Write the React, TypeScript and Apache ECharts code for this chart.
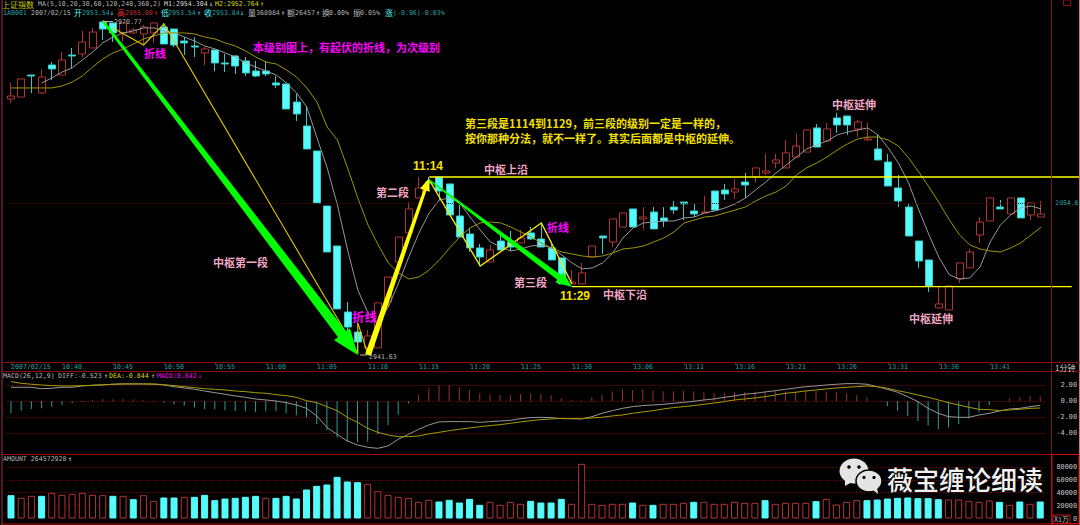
import React, { useEffect, useRef } from "react";
import * as echarts from "echarts";

const times = [
  "10:35","10:36","10:37","10:38","10:39","10:40","10:41","10:42","10:43","10:44","10:45","10:46","10:47","10:48","10:49","10:50","10:51","10:52","10:53","10:54","10:55","10:56","10:57","10:58","10:59","11:00","11:01","11:02","11:03","11:04","11:05","11:06","11:07","11:08","11:09","11:10","11:11","11:12","11:13","11:14","11:15","11:16","11:17","11:18","11:19","11:20","11:21","11:22","11:23","11:24","11:25","11:26","11:27","11:28","11:29","11:30","13:01","13:02","13:03","13:04","13:05","13:06","13:07","13:08","13:09","13:10","13:11","13:12","13:13","13:14","13:15","13:16","13:17","13:18","13:19","13:20","13:21","13:22","13:23","13:24","13:25","13:26","13:27","13:28","13:29","13:30","13:31","13:32","13:33","13:34","13:35","13:36","13:37","13:38","13:39","13:40","13:41","13:42","13:43","13:44","13:45","13:46",
];
const tickIndexes = [0, 5, 10, 15, 20, 25, 30, 35, 40, 45, 50, 55, 61, 66, 71, 76, 81, 86, 91, 96];
const dateLabel = "2007/02/15";

const opens = [
  2963.99,2964.16,2966.10,2964.52,2966.98,2966.10,2967.86,2967.95,2968.48,2970.76,
  2970.68,2969.80,2969.80,2969.71,2969.80,2970.32,2970.15,2969.09,2968.65,2968.04,
  2968.30,2967.16,2967.77,2967.33,2966.45,2966.45,2965.40,2965.31,2963.72,2961.61,
  2959.41,2954.57,2951.05,2945.24,2943.48,2942.08,2942.08,2946.12,2949.64,2952.20,
  2955.28,2956.68,2957.12,2956.51,2953.69,2952.11,2950.88,2949.64,2951.49,2951.40,
  2951.32,2952.20,2951.67,2950.88,2950.00,2947.71,2947.71,2950.08,2951.93,2951.40,
  2952.72,2954.31,2953.43,2954.04,2953.52,2954.48,2954.92,2954.13,2953.96,2955.89,
  2955.98,2955.80,2956.68,2957.12,2957.48,2958.36,2957.92,2958.88,2959.32,2961.44,
  2960.29,2962.32,2962.49,2961.35,2960.38,2959.59,2958.44,2956.16,2954.48,2951.49,
  2949.82,2945.60,2945.42,2948.15,2949.12,2952.02,2953.25,2954.48,2953.87,2955.28,
  2953.78,2953.60,
];
const closes = [
  2964.25,2965.75,2966.01,2965.92,2966.63,2967.42,2967.77,2969.00,2969.88,2970.15,
  2969.80,2970.68,2970.06,2970.32,2970.68,2968.83,2968.74,2968.92,2968.56,2968.39,
  2967.16,2967.07,2966.89,2966.28,2966.01,2966.19,2965.22,2963.11,2962.67,2959.59,
  2954.84,2950.52,2945.51,2943.92,2942.60,2943.13,2946.04,2948.32,2951.84,2954.31,
  2956.16,2956.60,2955.89,2953.78,2951.84,2950.88,2950.08,2950.70,2950.70,2950.96,
  2951.76,2951.67,2950.96,2949.82,2947.71,2947.88,2948.68,2951.05,2951.76,2953.43,
  2953.96,2952.72,2953.60,2952.55,2953.25,2954.22,2954.75,2953.87,2954.04,2954.22,
  2955.63,2956.07,2956.42,2957.92,2957.65,2958.62,2959.24,2959.85,2961.26,2959.76,
  2961.35,2961.70,2961.70,2961.96,2960.47,2958.62,2956.33,2955.01,2951.93,2949.73,
  2947.53,2945.95,2947.53,2949.56,2950.52,2953.16,2955.28,2954.31,2955.28,2953.52,
  2954.84,2953.87,
];
const lows = [
  2963.64,2964.16,2964.52,2964.43,2965.66,2966.10,2966.72,2967.68,2968.48,2969.18,
  2969.00,2969.00,2969.71,2968.74,2968.92,2968.83,2968.56,2967.86,2967.68,2966.98,
  2966.45,2966.36,2966.19,2966.01,2965.92,2966.01,2964.96,2963.11,2962.05,2959.59,
  2954.84,2950.52,2945.51,2943.40,2941.63,2941.63,2942.08,2945.68,2949.64,2952.20,
  2955.28,2955.98,2955.10,2953.78,2951.84,2950.52,2949.29,2949.64,2950.70,2950.61,
  2951.32,2951.58,2950.96,2949.82,2947.71,2947.71,2947.71,2950.08,2950.35,2950.96,
  2952.72,2952.72,2952.46,2952.55,2952.72,2953.87,2953.34,2953.60,2953.96,2954.22,
  2955.10,2955.19,2955.28,2956.60,2957.30,2957.92,2957.92,2958.88,2959.32,2959.76,
  2960.29,2961.00,2960.82,2960.64,2960.38,2958.62,2956.33,2954.48,2951.93,2949.12,
  2947.00,2945.60,2945.42,2947.80,2949.12,2951.32,2953.25,2954.31,2953.87,2953.52,
  2953.34,2953.60,
];
const highs = [
  2965.40,2965.75,2966.10,2966.63,2967.24,2968.12,2968.48,2969.97,2970.24,2970.77,
  2970.68,2970.68,2970.24,2970.50,2970.68,2970.68,2970.15,2969.44,2969.44,2968.56,
  2968.30,2967.95,2967.86,2967.68,2967.33,2967.33,2966.01,2965.31,2964.43,2963.37,
  2959.41,2954.57,2951.05,2946.12,2943.48,2943.66,2946.04,2948.32,2951.84,2954.92,
  2957.12,2957.12,2957.12,2956.51,2954.66,2952.64,2951.23,2951.14,2952.02,2952.37,
  2952.46,2952.72,2953.08,2951.32,2950.00,2948.94,2949.56,2951.05,2951.93,2953.43,
  2953.96,2954.31,2954.48,2954.48,2954.48,2955.01,2954.92,2954.75,2955.45,2955.89,
  2956.51,2956.95,2957.48,2957.92,2959.15,2959.15,2960.38,2960.91,2961.26,2961.79,
  2961.88,2962.76,2962.49,2962.14,2961.88,2960.82,2959.15,2957.30,2954.84,2951.49,
  2949.82,2947.44,2947.53,2949.56,2950.79,2953.60,2955.28,2955.10,2955.28,2955.28,
  2954.84,2955.01,
];
const ma1 = [
  null,null,null,2965.40,2965.84,2966.36,2966.72,2967.42,2968.12,2968.92,
  2969.44,2969.80,2969.97,2970.24,2970.24,2969.97,2969.80,2969.44,2969.09,2968.65,
  2968.39,2968.04,2967.68,2967.16,2966.80,2966.45,2966.10,2965.40,2964.52,2963.28,
  2960.56,2957.92,2954.66,2950.70,2947.18,2945.16,2944.28,2945.68,2947.80,2950.08,
  2952.20,2953.96,2955.10,2955.28,2954.84,2953.60,2952.46,2951.40,2950.96,2950.61,
  2950.79,2951.05,2951.14,2950.88,2950.26,2949.56,2949.03,2949.12,2949.56,2950.44,
  2951.76,2952.64,2953.08,2953.16,2953.25,2953.25,2953.52,2953.60,2953.96,2954.13,
  2954.40,2954.75,2955.28,2955.98,2956.68,2957.48,2958.18,2958.88,2959.59,2959.94,
  2960.29,2960.82,2961.08,2961.26,2961.44,2960.82,2959.68,2958.36,2956.60,2954.22,
  2952.02,2950.00,2948.50,2948.15,2948.24,2949.20,2951.40,2952.90,2953.78,2954.40,
  2954.57,2954.31,
];
const ma2 = [
  2964.96,2964.96,2964.96,2964.96,2964.96,2965.13,2965.48,2966.01,2966.80,2967.51,
  2968.04,2968.39,2968.83,2969.27,2969.53,2969.80,2969.80,2969.80,2969.71,2969.44,
  2969.27,2968.92,2968.65,2968.21,2967.68,2967.24,2967.07,2966.54,2965.92,2964.96,
  2963.72,2961.52,2960.38,2957.92,2955.28,2952.90,2951.14,2949.56,2948.68,2948.15,
  2948.32,2948.94,2949.82,2950.88,2951.84,2952.64,2953.08,2953.16,2953.08,2952.72,
  2952.28,2951.84,2951.32,2950.88,2950.52,2950.35,2950.17,2950.08,2950.17,2950.44,
  2950.79,2950.88,2951.05,2951.40,2951.76,2952.28,2953.08,2953.34,2953.60,2953.69,
  2953.96,2954.22,2954.48,2955.01,2955.45,2955.80,2956.33,2957.30,2957.92,2958.36,
  2958.88,2959.50,2960.03,2960.47,2960.64,2960.64,2960.38,2959.85,2958.80,2957.56,
  2956.24,2954.84,2953.34,2952.02,2951.14,2950.79,2950.61,2950.52,2950.88,2951.32,
  2952.02,2952.72,
];
const macdBars = [
  -1.5,-1.17,-0.96,-0.88,-0.67,-0.46,-0.25,-0.08,0.17,0.29,
  0.25,0.29,0.25,0.13,0.08,-0.17,-0.38,-0.54,-0.79,-0.96,
  -1.0,-1.13,-1.21,-1.25,-1.33,-1.25,-1.25,-1.5,-1.75,-2.0,
  -2.88,-3.58,-4.54,-5.0,-5.13,-5.04,-4.13,-2.96,-1.67,-0.29,
  0.79,1.63,2.0,2.0,1.71,1.38,1.0,0.88,0.75,0.79,
  0.92,1.0,0.92,0.75,0.38,0.13,0.13,0.5,0.79,1.21,
  1.5,1.42,1.5,1.33,1.25,1.25,1.33,1.25,1.13,1.0,
  1.08,1.13,1.13,1.21,1.21,1.29,1.21,1.21,1.42,1.29,
  1.21,1.13,1.0,0.79,0.5,0.02,-0.58,-1.17,-1.83,-2.46,
  -3.04,-3.5,-3.29,-2.83,-2.13,-1.38,-0.46,-0.04,0.38,0.46,
  0.67,0.64,
];
const diff = [
  1.75,1.75,1.75,1.58,1.63,1.75,1.75,1.92,2.0,2.04,
  2.13,2.17,2.17,2.17,2.13,2.04,1.83,1.67,1.5,1.29,
  1.08,0.88,0.67,0.5,0.29,0.17,0.04,-0.17,-0.46,-0.88,
  -1.83,-3.25,-4.13,-4.96,-5.46,-5.75,-5.88,-5.58,-4.75,-4.13,
  -3.5,-2.96,-2.58,-2.54,-2.54,-2.54,-2.63,-2.54,-2.46,-2.38,
  -2.17,-2.04,-2.0,-2.04,-2.17,-2.17,-2.21,-1.92,-1.5,-1.17,
  -0.88,-0.67,-0.54,-0.46,-0.38,-0.25,-0.13,0,0.17,0.29,
  0.5,0.67,0.88,1.0,1.17,1.33,1.5,1.67,1.83,1.92,
  2.04,2.13,2.21,2.21,2.13,1.83,1.5,1.13,0.58,-0.04,
  -0.88,-1.5,-1.92,-2.0,-2.0,-1.71,-1.5,-1.21,-0.96,-0.88,
  -0.67,-0.52,
];
const dea = [
  2.46,2.25,2.13,2.04,1.96,1.92,1.92,1.96,2.0,2.08,
  2.13,2.17,2.17,2.17,2.17,2.08,1.96,1.83,1.71,1.58,
  1.5,1.42,1.29,1.21,1.08,1.0,0.83,0.71,0.5,0.08,
  -0.17,-0.67,-1.17,-2.0,-2.63,-3.38,-3.88,-4.21,-4.42,-4.42,
  -4.33,-4.08,-3.88,-3.67,-3.5,-3.33,-3.17,-3.04,-2.92,-2.75,
  -2.58,-2.42,-2.29,-2.21,-2.13,-2.17,-2.17,-2.08,-2.0,-1.83,
  -1.71,-1.5,-1.33,-1.17,-0.96,-0.79,-0.67,-0.54,-0.38,-0.21,
  -0.04,0.17,0.29,0.42,0.58,0.79,1.0,1.13,1.29,1.42,
  1.54,1.67,1.75,1.83,1.92,1.83,1.63,1.33,1.08,0.79,
  0.5,0.17,-0.17,-0.46,-0.75,-1.0,-1.04,-1.17,-1.08,-1.0,
  -0.88,-0.84,
];
const amounts = [
  36170,32030,35130,35130,39780,36680,38230,39780,36680,36170,
  35130,35130,29970,36170,27380,32550,32550,33580,33580,36680,
  28420,31000,32030,33580,35130,32030,32030,35130,31000,44950,
  50630,52700,64580,57350,56320,53730,42370,36680,33580,32030,
  25830,28930,26350,28930,24800,30480,21180,25830,21180,25830,
  22730,27380,24800,24800,30480,22730,84730,22730,21180,22730,
  22730,24800,21180,21180,22730,22730,24280,25830,25830,22730,
  22730,25830,24280,24280,28420,22730,24280,24280,24280,26870,
  30480,21700,25830,28420,28420,29450,31000,32030,32550,31520,
  31520,29970,29450,29450,27380,25830,27900,25830,21180,26350,
  22730,26350,
];
const amountRising = [
  0,1,1,0,1,1,1,1,1,1,
  0,1,0,1,1,0,0,1,0,0,
  0,0,0,0,0,1,0,0,0,0,
  0,0,0,0,0,1,1,1,1,1,
  1,1,0,0,0,0,0,1,1,1,
  1,0,0,0,0,1,1,1,1,1,
  1,0,1,0,1,1,1,0,1,1,
  1,1,1,1,0,1,1,1,1,0,
  1,1,1,1,0,0,0,0,0,0,
  0,0,1,1,1,1,1,0,1,0,
  1,0,
];

// annotation geometry in chart coordinates: [bar index, price]
const upperEdge = [[41.3, 2957.12], [104.8, 2957.12]];
const lowerEdge = [[55, 2947.47], [104.2, 2947.47]];
const subLevelA = [[10, 2970.24], [12.94, 2968.74], [14.9, 2970.59], [33.82, 2941.63], [33.92, 2944.28], [35, 2941.46]];
const subLevelB = [[41.18, 2956.86], [46.08, 2949.29], [51.96, 2953.08], [55, 2947.71]];
const arrowDown1 = [[8.66, 2970.88], [34.02, 2941.46]];
const arrowUp = [[35, 2941.46], [40.98, 2957.04]];
const arrowDown2 = [[41.18, 2956.86], [55, 2947.44]];
const centerLevel = 2954.8;

const RED = "#B03434";
const CYAN = "#54FCFC";
const CYAN_EDGE = "#3cc8c8";
const TEAL = "#25A5A5";
const GRAY = "#B4B4B4";
const YELLOW = "#FFFF00";
const PINK = "#F2A6C4";
const MAGENTA = "#FF00FF";
const MONO = '"DejaVu Sans Mono"';
const CJK = '"Noto Sans CJK SC"';

const shapes: any[] = [
  { kind: "line", pts: upperEdge, color: YELLOW, width: 1.4 },
  { kind: "line", pts: lowerEdge, color: YELLOW, width: 1.4 },
  { kind: "line", pts: subLevelA, color: "#E2C800", width: 1.1 },
  { kind: "line", pts: subLevelB, color: "#F4E400", width: 1.4 },
  { kind: "arrow", pts: arrowDown1, color: "#00FF00", tail: 2.5, shaft: 10, head: 20, headLen: 26 },
  { kind: "arrow", pts: arrowUp, color: YELLOW, tail: 6, shaft: 3, head: 10, headLen: 13 },
  { kind: "arrow", pts: arrowDown2, color: "#00FF00", tail: 1.5, shaft: 6, head: 13, headLen: 16 },
];

function renderShape(params: any, api: any) {
  const s = shapes[params.dataIndex];
  const pts = s.pts.map((p: number[]) => api.coord(p));
  if (s.kind === "line") {
    return { type: "polyline", shape: { points: pts }, style: { stroke: s.color, lineWidth: s.width, fill: "none" } };
  }
  const [a, b] = pts;
  const dx = b[0] - a[0];
  const dy = b[1] - a[1];
  const len = Math.hypot(dx, dy);
  const ux = dx / len;
  const uy = dy / len;
  const nx = -uy;
  const ny = ux;
  const bx = b[0] - ux * s.headLen;
  const by = b[1] - uy * s.headLen;
  const at = (x: number, y: number, w: number) => [x + (nx * w) / 2, y + (ny * w) / 2];
  const points = [
    at(a[0], a[1], s.tail),
    at(bx, by, s.shaft),
    at(bx, by, s.head),
    b,
    at(bx, by, -s.head),
    at(bx, by, -s.shaft),
    at(a[0], a[1], -s.tail),
  ];
  return { type: "polygon", shape: { points }, style: { fill: s.color } };
}

const txt = (text: string, x: number, y: number, fill: string, font: string, align = "left") => ({
  type: "text",
  x,
  y,
  z: 100,
  silent: true,
  style: { text, fill, font, align, verticalAlign: "middle" },
});
const mono = (text: string, x: number, y: number, fill: string) => txt(text, x, y, fill, `6.6px ${MONO}`);
const cjk8 = (text: string, x: number, y: number, fill: string) => txt(text, x, y, fill, `8px ${CJK}`);
const note = (text: string, x: number, y: number, fill: string, size = 11) => txt(text, x, y, fill, `bold ${size}px ${CJK}`);
const hLine = (y: number, x1: number, x2: number, stroke: string) => ({
  type: "line", z: 50, silent: true, shape: { x1, y1: y, x2, y2: y }, style: { stroke, lineWidth: 1 },
});
const vLine = (x: number, y1: number, y2: number, stroke: string) => ({
  type: "line", z: 50, silent: true, shape: { x1: x, y1, x2: x, y2 }, style: { stroke, lineWidth: 1 },
});

const frame = [
  vLine(2, 0, 525, "#A03050"),
  vLine(1051.5, 0, 525, "#7A1515"),
  vLine(1079.5, 0, 525, "#C08080"),
  hLine(362.5, 2, 1080, "#8A1010"),
  hLine(371.5, 2, 1080, "#8A1010"),
  hLine(454.5, 2, 1052, "#A01010"),
  hLine(524, 2, 1080, "#C01010"),
  { type: "rect", z: 51, silent: true, shape: { x: 1052, y: 454.5, width: 27, height: 69 }, style: { fill: "none", stroke: "#D01010", lineWidth: 1 } },
  { type: "rect", z: 51, silent: true, shape: { x: 1053, y: 515, width: 17, height: 8.5 }, style: { fill: "none", stroke: "#D01010", lineWidth: 1 } },
  { type: "rect", z: 51, silent: true, shape: { x: 1063.5, y: 0, width: 7, height: 5.5 }, style: { fill: "none", stroke: "#8A1010", lineWidth: 1 } },
  { type: "line", z: 60, silent: true, shape: { x1: 102, y1: 21.5, x2: 113, y2: 21.5 }, style: { stroke: GRAY, lineWidth: 1 } },
  { type: "line", z: 60, silent: true, shape: { x1: 360, y1: 355, x2: 367, y2: 355 }, style: { stroke: GRAY, lineWidth: 1 } },
];

const header = [
  cjk8("上证指数", 2, 4, "#C8C800"),
  mono("MA(5,10,20,30,60,120,240,360,2)", 38, 4, GRAY),
  mono("M1:2954.304", 164, 4, "#D8D8D8"),
  mono("↓", 209, 4, "#E8E8E8"),
  mono("M2:2952.764", 215, 4, "#D8D800"),
  mono("↑", 260, 4, "#E8E800"),
  mono("1A0001", 3, 13, TEAL),
  mono("2007/02/15", 31, 13, GRAY),
  cjk8("开", 74, 12.5, CYAN),
  mono("2953.54", 82, 13, TEAL),
  mono("↓", 110, 13, CYAN),
  cjk8("高", 117, 12.5, "#E03030"),
  mono("2955.00", 125, 13, "#C03030"),
  mono("↑", 154, 13, "#E03030"),
  cjk8("低", 161, 12.5, CYAN),
  mono("2953.54", 168, 13, TEAL),
  mono("↑", 197, 13, CYAN),
  cjk8("收", 204, 12.5, CYAN),
  mono("2953.84", 212, 13, TEAL),
  mono("↓", 240, 13, CYAN),
  cjk8("量", 248, 12.5, GRAY),
  mono("368984", 256, 13, GRAY),
  mono("↑", 281, 13, "#E8E8E8"),
  cjk8("额", 287, 12.5, GRAY),
  mono("26457", 295, 13, GRAY),
  mono("↑", 316, 13, "#E8E8E8"),
  cjk8("换", 322, 12.5, GRAY),
  mono("0.00%", 329, 13, GRAY),
  cjk8("振", 353, 12.5, GRAY),
  mono("0.05%", 360, 13, GRAY),
  cjk8("涨", 385, 12.5, CYAN),
  mono("(-0.96)-0.03%", 393, 13, TEAL),
  mono("2970.77", 114, 21.5, GRAY),
  mono("2941.63", 369, 356.5, GRAY),
  mono("MACD(26,12,9)", 3, 376, GRAY),
  mono("DIFF:-0.523", 58, 376, GRAY),
  mono("↑", 104, 376, "#E8E8E8"),
  mono("DEA:-0.844", 109, 376, "#D8D800"),
  mono("↑", 151, 376, "#E8E800"),
  mono("MACD:0.642", 157, 376, MAGENTA),
  mono("↓", 198, 376, MAGENTA),
  mono("AMOUNT 264572928", 3, 459, GRAY),
  mono("↑", 68, 459, "#E8E8E8"),
  txt("1分钟", 1055, 367, "#C8C8C8", `8px ${CJK}`),
  txt("X1万", 1054, 519, "#B8B8B8", `7px ${CJK}`),
];

const notes = [
  note("折线", 144, 52.5, MAGENTA),
  note("本级别图上，有起伏的折线，为次级别", 253, 47, MAGENTA),
  note("第三段是1114到1129，前三段的级别一定是一样的，", 465, 122.7, "#F4E000"),
  note("按你那种分法，就不一样了。其实后面都是中枢的延伸。", 465, 138.3, "#F4E000"),
  txt("11:14", 413, 165.5, "#F4E000", 'bold 12px "Liberation Sans"'),
  note("中枢上沿", 484, 169, PINK),
  note("第二段", 376, 192, PINK),
  note("折线", 547, 227, MAGENTA),
  note("第三段", 514, 282, PINK),
  txt("11:29", 560, 296, "#F4E000", 'bold 12px "Liberation Sans"'),
  note("中枢下沿", 603, 294, PINK),
  note("折线", 352, 316, MAGENTA, 12.5),
  note("中枢第一段", 213, 262, PINK),
  note("中枢延伸", 832, 104, PINK),
  note("中枢延伸", 909, 318, PINK),
];

const BUBBLE = "#E4E4E4";
const watermark = [
  { type: "ellipse", z: 90, silent: true, shape: { cx: 854, cy: 471, rx: 14.5, ry: 12.5 }, style: { fill: BUBBLE } },
  { type: "polygon", z: 90, silent: true, shape: { points: [[845, 479], [845, 486], [852, 482]] }, style: { fill: BUBBLE } },
  { type: "circle", z: 91, silent: true, shape: { cx: 849, cy: 467, r: 1.8 }, style: { fill: "#000" } },
  { type: "circle", z: 91, silent: true, shape: { cx: 859, cy: 467, r: 1.8 }, style: { fill: "#000" } },
  { type: "ellipse", z: 92, silent: true, shape: { cx: 869, cy: 481, rx: 13, ry: 11 }, style: { fill: BUBBLE, stroke: "#000", lineWidth: 1.5 } },
  { type: "polygon", z: 92, silent: true, shape: { points: [[873, 490], [878, 494], [877, 487]] }, style: { fill: BUBBLE } },
  { type: "circle", z: 93, silent: true, shape: { cx: 864, cy: 477.5, r: 1.6 }, style: { fill: "#000" } },
  { type: "circle", z: 93, silent: true, shape: { cx: 874, cy: 477.5, r: 1.6 }, style: { fill: "#000" } },
  txt("薇宝缠论细读", 887, 478, "#F0F0F0", `500 26px ${CJK}`),
];

const axisGrid = { left: 5.9, width: 1040.4 };
const isTick = (i: number) => tickIndexes.indexOf(i) >= 0;
const hiddenX = (gridIndex: number) => ({
  type: "category", gridIndex, data: times, boundaryGap: true, show: false,
});

export default function App() {
  const ref = useRef<HTMLDivElement>(null);
  useEffect(() => {
    if (!ref.current) return;
    document.body.style.margin = "0";
    document.body.style.background = "#000";
    const chart = echarts.init(ref.current, undefined, { renderer: "svg" });
    chart.setOption({
      animation: false,
      backgroundColor: "#000",
      grid: [
        { ...axisGrid, top: 0, height: 362 },
        { ...axisGrid, top: 369.3, height: 80 },
        { ...axisGrid, top: 454, height: 64.5 },
      ],
      xAxis: [
        {
          type: "category",
          gridIndex: 0,
          data: times,
          boundaryGap: true,
          axisLine: { show: false },
          axisTick: { show: true, alignWithLabel: true, interval: (i: number) => isTick(i), length: 3, lineStyle: { color: "#8A1010" } },
          axisLabel: {
            interval: (i: number) => isTick(i),
            formatter: (v: string) => (v === times[0] ? dateLabel : v),
            align: "left",
            verticalAlign: "top",
            margin: 1.5,
            color: TEAL,
            fontFamily: "DejaVu Sans Mono",
            fontSize: 6.6,
          },
          splitLine: { show: false },
        },
        hiddenX(1),
        hiddenX(2),
      ],
      yAxis: [
        { type: "value", gridIndex: 0, min: 2940.84, max: 2972.7, show: false, splitLine: { show: false } },
        {
          type: "value",
          gridIndex: 1,
          position: "right",
          min: -6,
          max: 4,
          interval: 2,
          axisLine: { show: false },
          axisTick: { show: false },
          axisLabel: {
            showMinLabel: false,
            showMaxLabel: false,
            align: "right",
            margin: 31.7,
            color: "#C8C8C8",
            fontFamily: "DejaVu Sans Mono",
            fontSize: 6.8,
            formatter: (v: number) => v.toFixed(2),
          },
          splitLine: { show: true, showMinLine: false, showMaxLine: false, lineStyle: { color: "#6A0A0A", type: "dotted", width: 1 } },
        },
        {
          type: "value",
          gridIndex: 2,
          position: "right",
          min: 0,
          max: 100000,
          interval: 20000,
          axisLine: { show: false },
          axisTick: { show: false },
          axisLabel: {
            showMaxLabel: false,
            align: "right",
            margin: 31.7,
            color: "#C8C8C8",
            fontFamily: "DejaVu Sans Mono",
            fontSize: 6.8,
            formatter: (v: number) => String(v),
          },
          splitLine: { show: true, showMinLine: false, showMaxLine: false, lineStyle: { color: "#6A0A0A", type: "dotted", width: 1 } },
        },
      ],
      series: [
        {
          type: "candlestick",
          xAxisIndex: 0,
          yAxisIndex: 0,
          barWidth: 7.5,
          silent: true,
          data: times.map((_, i) => [opens[i], closes[i], lows[i], highs[i]]),
          itemStyle: { color: "#000", color0: CYAN, borderColor: RED, borderColor0: CYAN_EDGE, borderWidth: 1 },
          markLine: {
            silent: true,
            symbol: "none",
            lineStyle: { color: "#4A0808", type: "dotted", width: 1 },
            label: { position: "end", distance: 9, formatter: "2954.8", color: TEAL, fontFamily: "DejaVu Sans Mono", fontSize: 6.4 },
            data: [{ yAxis: centerLevel }],
          },
        },
        { type: "line", xAxisIndex: 0, yAxisIndex: 0, data: ma1, symbol: "none", silent: true, lineStyle: { color: "#A8A8A8", width: 0.9 } },
        { type: "line", xAxisIndex: 0, yAxisIndex: 0, data: ma2, symbol: "none", silent: true, lineStyle: { color: "#A09400", width: 1 } },
        {
          type: "custom",
          xAxisIndex: 0,
          yAxisIndex: 0,
          silent: true,
          z: 10,
          clip: false,
          renderItem: renderShape,
          encode: { x: 0, y: 1 },
          data: shapes.map((s) => [s.pts[0][0], s.pts[0][1]]),
        },
        {
          type: "bar",
          xAxisIndex: 1,
          yAxisIndex: 1,
          barWidth: 1,
          silent: true,
          data: macdBars.map((v) => ({ value: v, itemStyle: { color: v >= 0 ? "#A03030" : "#2E9C9C" } })),
        },
        { type: "line", xAxisIndex: 1, yAxisIndex: 1, data: diff, symbol: "none", silent: true, lineStyle: { color: "#A8A8A8", width: 0.9 } },
        { type: "line", xAxisIndex: 1, yAxisIndex: 1, data: dea, symbol: "none", silent: true, lineStyle: { color: "#A89C00", width: 1 } },
        {
          type: "bar",
          xAxisIndex: 2,
          yAxisIndex: 2,
          barWidth: 7,
          silent: true,
          data: amounts.map((v, i) => ({
            value: v,
            itemStyle: amountRising[i]
              ? { color: "#000", borderColor: RED, borderWidth: 1 }
              : { color: CYAN, borderColor: CYAN, borderWidth: 1 },
          })),
        },
      ],
      graphic: { elements: [...frame, ...header, ...notes, ...watermark] },
    });
    return () => chart.dispose();
  }, []);
  return <div ref={ref} style={{ position: "fixed", left: 0, top: 0, width: 1080, height: 525, background: "#000" }} />;
}
